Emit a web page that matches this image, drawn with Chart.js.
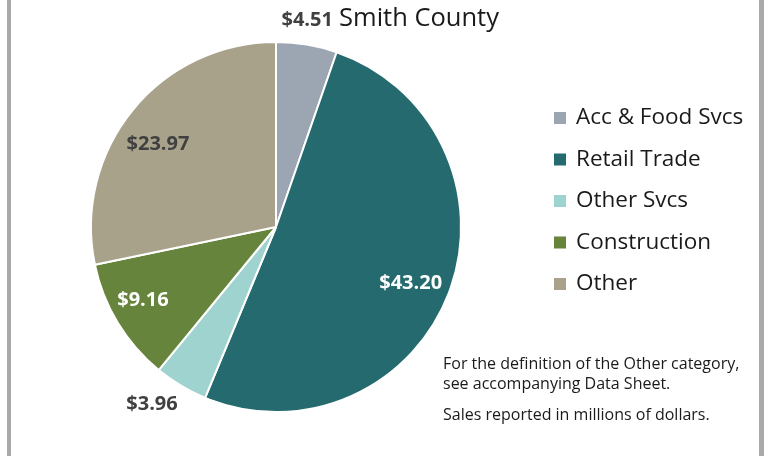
<!DOCTYPE html>
<html lang="en">
<head>
  <meta charset="UTF-8" />
  <title>Smith County</title>
  <script src="https://cdn.jsdelivr.net/npm/chart.js"></script>
  <style>
    * { box-sizing: border-box; }
    body { margin: 0; padding: 0; background: #fff; }
    #frame {
      position: absolute;
      left: 7px;
      top: 0;
      width: 757px;
      height: 456px;
      border-left: 4px solid #a9a9a9;
      border-right: 5px solid #a9a9a9;
    }
    #wrap { position: absolute; left: 0; top: 0; width: 770px; height: 456px; }
  </style>
</head>
<body>
  <div id="frame"></div>
  <div id="wrap"><canvas id="chart" width="770" height="456"></canvas></div>

  <script>
    const categories = ['Acc & Food Svcs', 'Retail Trade', 'Other Svcs', 'Construction', 'Other'];
    const sales = [4.51, 43.20, 3.96, 9.16, 23.97];
    const colors = ['#9ba6b2', '#246a6f', '#9fd3cf', '#66843b', '#a9a28b'];
    const titleText = 'Smith County';
    const notes = [
      'For the definition of the Other category,',
      'see accompanying Data Sheet.',
      'Sales reported in millions of dollars.'
    ];

    // where each value label sits: fraction of radius, colour, angle nudge in degrees
    const labelPlace = [
      { r: 1.13, color: '#404040', nudge: -1 },
      { r: 0.79, color: '#ffffff', nudge: 2 },
      { r: 1.17, color: '#404040', nudge: 4 },
      { r: 0.82, color: '#ffffff', nudge: 2.5 },
      { r: 0.78, color: '#404040', nudge: -4 }
    ];

    const extras = {
      id: 'extras',
      afterDraw(chart) {
        const ctx = chart.ctx;
        const meta = chart.getDatasetMeta(0);
        ctx.save();
        ctx.textBaseline = 'middle';

        // title
        ctx.fillStyle = '#1a1a1a';
        ctx.font = '25.5px "Open Sans", sans-serif';
        ctx.textAlign = 'center';
        ctx.fillText(titleText, 419, 19);

        // value labels
        ctx.font = 'bold 20px "Open Sans", sans-serif';
        meta.data.forEach((arc, i) => {
          const mid = (arc.startAngle + arc.endAngle) / 2 + labelPlace[i].nudge * Math.PI / 180;
          const r = arc.outerRadius * labelPlace[i].r;
          const x = arc.x + Math.cos(mid) * r;
          const y = arc.y + Math.sin(mid) * r;
          ctx.fillStyle = labelPlace[i].color;
          ctx.fillText('$' + sales[i].toFixed(2), x, y);
        });

        // legend
        ctx.textAlign = 'left';
        ctx.font = '22.5px "Open Sans", sans-serif';
        categories.forEach((c, i) => {
          const y = 118 + i * 41.5;
          ctx.fillStyle = colors[i];
          ctx.fillRect(554, y - 6, 12, 12);
          ctx.fillStyle = '#1a1a1a';
          ctx.fillText(c, 576, y);
        });

        // notes
        ctx.font = '16px "Open Sans", sans-serif';
        ctx.fillStyle = '#1a1a1a';
        ctx.fillText(notes[0], 443, 364);
        ctx.fillText(notes[1], 443, 384);
        ctx.fillText(notes[2], 443, 415);
        ctx.restore();
      }
    };

    new Chart(document.getElementById('chart'), {
      type: 'pie',
      data: {
        labels: categories,
        datasets: [{
          data: sales,
          backgroundColor: colors,
          borderColor: '#ffffff',
          borderWidth: 2
        }]
      },
      options: {
        responsive: false,
        animation: false,
        layout: { padding: { top: 41, bottom: 43, left: 90, right: 308 } },
        plugins: {
          legend: { display: false },
          tooltip: { enabled: false }
        }
      },
      plugins: [extras]
    });
  </script>
</body>
</html>
